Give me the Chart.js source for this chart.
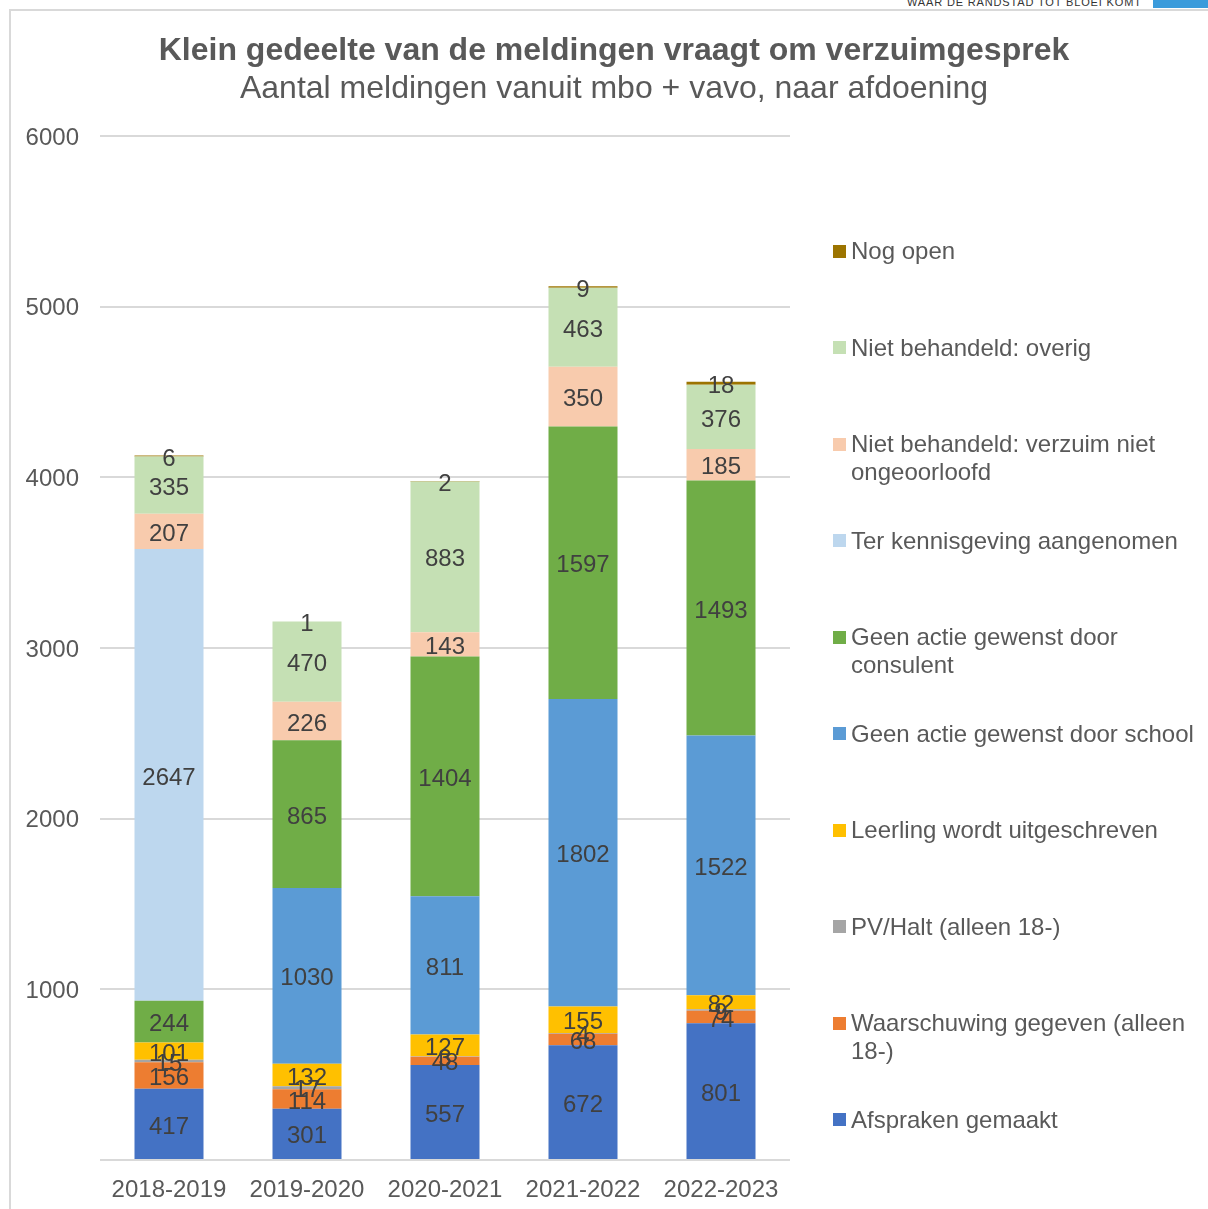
<!DOCTYPE html>
<html>
<head>
<meta charset="utf-8">
<script src="https://cdn.jsdelivr.net/npm/chart.js@4/dist/chart.umd.min.js"></script>
<style>
    body { margin: 0; background: #fff; font-family: "Liberation Sans", Arial, sans-serif; }
    #wrap { position: relative; width: 1208px; height: 1209px; overflow: hidden; }
    #frame { position: absolute; left: 9px; top: 9px; width: 1300px; height: 1300px; border: 2px solid #d9d9d9; box-sizing: border-box; }
    #brand { position: absolute; left: 907px; top: -4px; font-size: 11px; line-height: 12px; letter-spacing: 0.85px; color: #333; white-space: nowrap; }
    #brandBar { position: absolute; left: 1153px; top: 0; width: 60px; height: 8px; background: #3b9bdb; }
    .title { position: absolute; left: 20px; width: 1188px; text-align: center; color: #595959; line-height: 38px; }
    #title { top: 30px; font-size: 32px; font-weight: bold; }
    #subtitle { top: 68px; font-size: 32px; }
    canvas { position: absolute; left: 0; top: 0; }
    .lg-box { position: absolute; left: 833px; width: 13px; height: 13px; }
    .lg-text { position: absolute; left: 851px; width: 350px; font-size: 24px; line-height: 28px; color: #595959; }
</style>
</head>
<body>
<div id="wrap">
    <div id="frame"></div>
    <div id="brand">WAAR DE RANDSTAD TOT BLOEI KOMT</div>
    <div id="brandBar"></div>
    <canvas id="chart" width="1208" height="1209"></canvas>
    <div class="title" id="title">Klein gedeelte van de meldingen vraagt om verzuimgesprek</div>
    <div class="title" id="subtitle">Aantal meldingen vanuit mbo + vavo, naar afdoening</div>
    <div id="legend"></div>
</div>
<script>
'use strict';

const categories = ['2018-2019', '2019-2020', '2020-2021', '2021-2022', '2022-2023'];
const yTicks = [0, 1000, 2000, 3000, 4000, 5000, 6000];

// values per afdoening, bottom of the stack first
const afsprakenGemaakt = [417, 301, 557, 672, 801];
const waarschuwing = [156, 114, 48, 68, 74];
const pvHalt = [15, 17, 3, 4, 9];
const uitgeschreven = [101, 132, 127, 155, 82];
const geenActieSchool = [0, 1030, 811, 1802, 1522];
const geenActieConsulent = [244, 865, 1404, 1597, 1493];
const terKennisgeving = [2647, 0, 0, 0, 0];
const nietBehandeldVerzuim = [207, 226, 143, 350, 185];
const nietBehandeldOverig = [335, 470, 883, 463, 376];
const nogOpen = [6, 1, 2, 9, 18];

const seriesNames = [
    'Afspraken gemaakt',
    'Waarschuwing gegeven (alleen 18-)',
    'PV/Halt (alleen 18-)',
    'Leerling wordt uitgeschreven',
    'Geen actie gewenst door school',
    'Geen actie gewenst door consulent',
    'Ter kennisgeving aangenomen',
    'Niet behandeld: verzuim niet ongeoorloofd',
    'Niet behandeld: overig',
    'Nog open'
];
const seriesValues = [afsprakenGemaakt, waarschuwing, pvHalt, uitgeschreven, geenActieSchool,
    geenActieConsulent, terKennisgeving, nietBehandeldVerzuim, nietBehandeldOverig, nogOpen];
const seriesColors = ['#4472c4', '#ed7d31', '#a5a5a5', '#ffc000', '#5b9bd5',
    '#70ad47', '#bdd7ee', '#f8cbad', '#c5e0b4', '#9c7400'];

const FONT = '"Liberation Sans", Arial, sans-serif';

const valueLabels = {
    id: 'valueLabels',
    afterDatasetsDraw: function (chart) {
        const ctx = chart.ctx;
        ctx.save();
        ctx.font = '24px ' + FONT;
        ctx.fillStyle = '#404040';
        ctx.textAlign = 'center';
        ctx.textBaseline = 'middle';
        chart.data.datasets.forEach(function (ds, i) {
            const meta = chart.getDatasetMeta(i);
            meta.data.forEach(function (bar, j) {
                const v = ds.data[j];
                if (!v) return;
                ctx.fillText(String(v), bar.x, (bar.y + bar.base) / 2 + 3);
            });
        });
        ctx.restore();
    }
};

const chart = new Chart(document.getElementById('chart').getContext('2d'), {
    type: 'bar',
    data: {
        labels: categories,
        datasets: seriesNames.map(function (name, i) {
            return {
                label: name,
                data: seriesValues[i],
                backgroundColor: seriesColors[i],
                borderWidth: 0,
                barPercentage: 0.5,
                categoryPercentage: 1
            };
        })
    },
    options: {
        responsive: false,
        animation: false,
        layout: { padding: { top: 136, right: 418, bottom: 0, left: 0 } },
        plugins: {
            legend: { display: false },
            title: { display: false },
            tooltip: { enabled: false }
        },
        scales: {
            x: {
                stacked: true,
                grid: { display: false, drawTicks: false },
                border: { display: false },
                ticks: { color: '#595959', font: { family: FONT, size: 24 }, padding: 16 },
                afterFit: function (s) { s.height = 49; }
            },
            y: {
                stacked: true,
                min: yTicks[0],
                max: yTicks[yTicks.length - 1],
                afterBuildTicks: function (s) {
                    s.ticks = yTicks.map(function (v) { return { value: v }; });
                },
                grid: { color: '#d9d9d9', lineWidth: 2, drawTicks: false },
                border: { display: false },
                ticks: {
                    color: '#595959',
                    font: { family: FONT, size: 24 },
                    padding: 21,
                    labelOffset: 2,
                    callback: function (v) { return v === 0 ? '' : String(v); }
                },
                afterFit: function (s) { s.width = 100; }
            }
        }
    },
    plugins: [valueLabels]
});

// legend on the right, top item is the top of the stack
const legendEl = document.getElementById('legend');
chart.data.datasets.slice().reverse().forEach(function (ds, i) {
    const centre = 251 + i * 96.55;
    const box = document.createElement('div');
    box.className = 'lg-box';
    box.style.top = (centre - 6.5) + 'px';
    box.style.background = ds.backgroundColor;
    const txt = document.createElement('div');
    txt.className = 'lg-text';
    txt.style.top = (centre - 14) + 'px';
    txt.textContent = ds.label;
    legendEl.appendChild(box);
    legendEl.appendChild(txt);
});
</script>
</body>
</html>
